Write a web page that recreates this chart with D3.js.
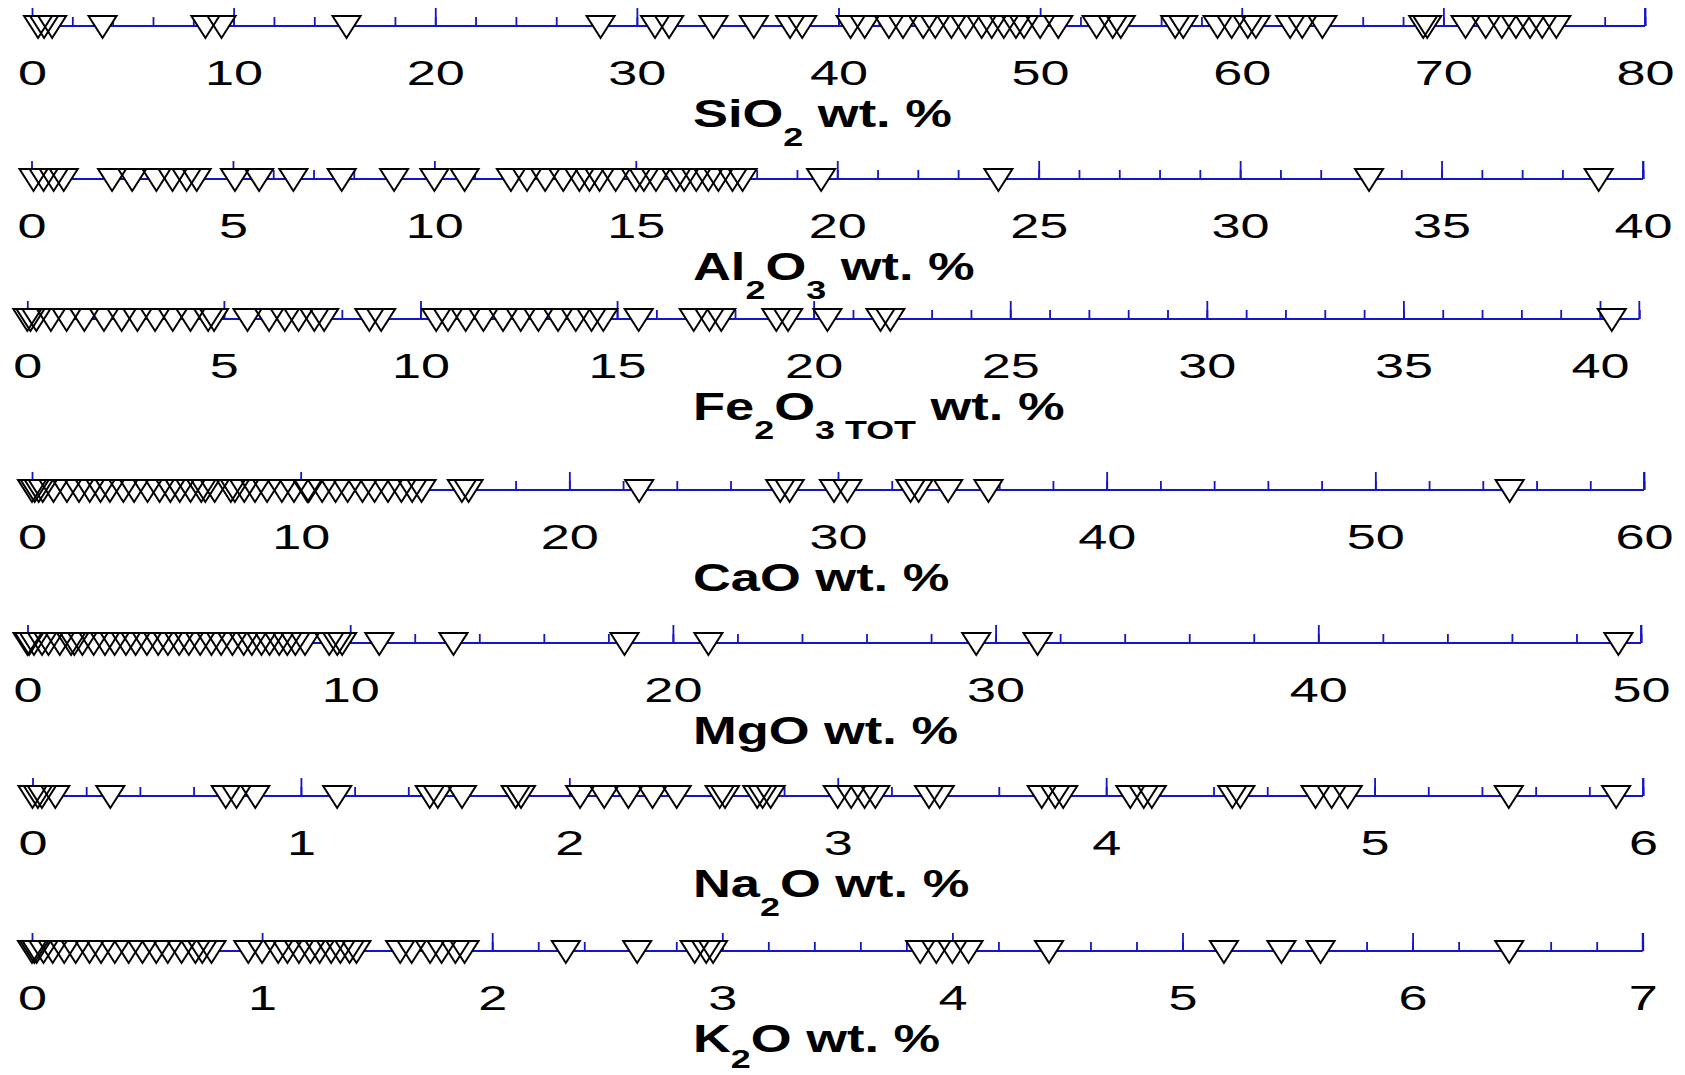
<!DOCTYPE html>
<html><head><meta charset="utf-8">
<script src="https://cdn.jsdelivr.net/npm/d3@7"></script>
<style>body{margin:0;background:#fff}svg{display:block}</style>
</head><body><svg id="c" width="1685" height="1075"></svg>
<script>
// ---- data (wt. %) ----
const sio2Values = [0.3,0.6,1.0,3.5,8.6,9.4,15.6,28.2,30.9,31.6,33.8,35.8,37.6,38.2,40.6,41.3,42.5,43.2,44.2,44.8,45.6,46.3,47.1,47.6,48.2,48.8,49.2,50.0,50.9,52.8,53.6,54.0,56.7,57.1,58.8,59.5,60.3,60.7,62.4,63.0,64.0,69.0,69.2,71.1,72.1,72.9,73.6,74.3,74.9,75.6];
const al2o3Values = [0.05,0.3,0.55,0.8,2.0,2.5,3.1,3.5,3.85,4.1,5.05,5.65,6.5,7.7,9.0,10.0,10.75,11.9,12.3,12.75,13.2,13.6,13.85,14.1,14.5,15.0,15.2,15.5,16.0,16.2,16.5,16.8,17.05,17.4,17.65,19.6,24.0,33.2,38.9];
const fe2o3Values = [0.0,0.08,0.23,0.6,1.0,1.45,1.95,2.4,2.8,3.25,3.7,4.15,4.6,4.75,5.6,6.15,6.55,6.9,7.3,7.55,8.7,9.0,10.4,10.7,11.15,11.6,12.1,12.55,13.0,13.5,13.95,14.35,14.65,15.55,16.95,17.35,17.65,19.05,19.35,20.35,21.7,21.95,40.3];
const caoValues = [0.0,0.1,0.25,0.4,0.8,1.3,1.75,2.15,2.55,2.9,3.4,3.8,4.3,4.75,5.15,5.5,5.9,6.3,6.45,6.8,7.4,7.55,7.9,8.3,8.75,9.3,9.75,10.25,10.3,10.8,11.3,11.75,12.3,12.75,13.25,13.75,14.15,14.5,16.0,16.25,22.6,27.85,28.2,29.85,30.35,32.7,33.0,34.1,35.6,55.0];
const mgoValues = [0.0,0.05,0.2,0.45,0.65,1.0,1.35,1.45,1.7,2.05,2.4,2.7,3.05,3.35,3.7,4.05,4.35,4.7,5.0,5.35,5.7,6.0,6.35,6.7,6.95,7.25,7.5,7.8,8.05,8.3,8.6,9.35,9.6,9.75,10.9,13.2,18.5,21.1,29.4,31.3,49.3];
const na2oValues = [0.0,0.02,0.035,0.085,0.29,0.72,0.76,0.83,1.135,1.48,1.51,1.6,1.8,1.82,2.04,2.13,2.22,2.31,2.4,2.56,2.58,2.7,2.72,2.75,3.0,3.05,3.1,3.14,3.34,3.38,3.76,3.81,3.84,4.09,4.14,4.17,4.47,4.5,4.78,4.84,4.9,5.5,5.9];
const k2oValues = [0.0,0.01,0.02,0.05,0.09,0.14,0.19,0.25,0.3,0.36,0.42,0.48,0.54,0.59,0.65,0.71,0.74,0.78,0.94,1.0,1.07,1.11,1.16,1.21,1.25,1.3,1.34,1.38,1.41,1.6,1.65,1.73,1.78,1.84,1.88,2.32,2.63,2.88,2.93,2.96,3.86,3.93,4.0,4.07,4.42,5.18,5.43,5.6,6.42];

// ---- tick labels ----
const sio2Ticks = [0,10,20,30,40,50,60,70,80];
const al2o3Ticks = [0,5,10,15,20,25,30,35,40];
const fe2o3Ticks = [0,5,10,15,20,25,30,35,40];
const caoTicks = [0,10,20,30,40,50,60];
const mgoTicks = [0,10,20,30,40,50];
const na2oTicks = [0,1,2,3,4,5,6];
const k2oTicks = [0,1,2,3,4,5,6,7];
const minorSteps = [2,1,1,2,2,0.2,0.2];
const axisEnds = [80,40,41,60,50,6,7];

// ---- titles (text, subscript flag) ----
const titles = [
  [["SiO",0],["2",1],[" wt. %",0]],
  [["Al",0],["2",1],["O",0],["3",1],[" wt. %",0]],
  [["Fe",0],["2",1],["O",0],["3 TOT",1],[" wt. %",0]],
  [["CaO wt. %",0]],
  [["MgO wt. %",0]],
  [["Na",0],["2",1],["O wt. %",0]],
  [["K",0],["2",1],["O wt. %",0]]
];

const seriesValues = [sio2Values, al2o3Values, fe2o3Values, caoValues, mgoValues, na2oValues, k2oValues];
const tickSets = [sio2Ticks, al2o3Ticks, fe2o3Ticks, caoTicks, mgoTicks, na2oTicks, k2oTicks];

// ---- layout ----
const lineY = [26,179,319,490,643,796,951];
const xStart = [32,31.5,27.3,32,27.5,32.5,32];
const xLast = [1645,1643,1600,1644,1641,1643,1642.7];
const subDys = [19,19,19,19,19,19,16];
const BLUE = "#1414c8";
const TW = 28, TUP = 10, TDOWN = 12;
const tickFont = 36, tickSX = 1.45;
const titleFont = 38, titleSX = 1.38, titleX = 693, subFont = 26;

const svg = d3.select("#c");

seriesValues.forEach((vals, i) => {
  const ticks = tickSets[i];
  const last = ticks[ticks.length - 1];
  const x = d3.scaleLinear().domain([0, last]).range([xStart[i], xLast[i]]);
  const g = svg.append("g").attr("transform", `translate(0,${lineY[i]})`);

  // minor ticks
  const minor = d3.range(0, axisEnds[i] + 1e-9, minorSteps[i]).map(v => +v.toFixed(4));
  const gm = g.append("g").call(d3.axisTop(x).tickValues(minor).tickSize(9).tickSizeOuter(0).tickFormat(""));
  gm.select(".domain").remove();
  // major ticks
  const gM = g.append("g").call(d3.axisTop(x).tickValues(ticks).tickSize(18).tickSizeOuter(0).tickFormat(""));
  gM.select(".domain").remove();
  g.selectAll(".tick line").attr("stroke", BLUE).attr("stroke-width", 1.8);
  // end tick
  g.append("line").attr("x1", x(axisEnds[i])).attr("x2", x(axisEnds[i])).attr("y1", 0).attr("y2", -18)
    .attr("stroke", BLUE).attr("stroke-width", 1.8);
  // axis line
  g.append("line").attr("x1", x(0)).attr("x2", x(axisEnds[i])).attr("y1", 0).attr("y2", 0)
    .attr("stroke", BLUE).attr("stroke-width", 1.8);

  // tick labels
  const gl = g.append("g").call(d3.axisBottom(x).tickValues(ticks).tickSize(0).tickPadding(0).tickFormat(d3.format("d")));
  gl.select(".domain").remove();
  gl.selectAll("text")
    .attr("y", 59).attr("dy", null).attr("x", 0)
    .attr("fill", "#000")
    .attr("font-family", "'Liberation Sans', Arial, sans-serif")
    .attr("font-size", tickFont)
    .attr("transform", `scale(${tickSX},1)`);

  // triangles (white fills first, then outlines)
  const tri = `M${-TW/2},${-TUP}L${TW/2},${-TUP}L0,${TDOWN}Z`;
  g.append("g").selectAll("path").data(vals).join("path")
    .attr("d", tri).attr("transform", d => `translate(${x(d)},0)`)
    .attr("fill", "#fff").attr("stroke", "none");
  g.append("g").selectAll("path").data(vals).join("path")
    .attr("d", tri).attr("transform", d => `translate(${x(d)},0)`)
    .attr("fill", "none").attr("stroke", "#000").attr("stroke-width", 2);

  // title
  const t = svg.append("text")
    .attr("transform", `translate(${titleX},${lineY[i] + 101}) scale(${titleSX},1)`)
    .attr("font-family", "'Liberation Sans', Arial, sans-serif")
    .attr("font-weight", "bold")
    .attr("font-size", titleFont)
    .attr("fill", "#000")
    .style("white-space", "pre");
  let inSub = false;
  titles[i].forEach(([s, sub]) => {
    const ts = t.append("tspan").text(s);
    if (sub) {
      ts.attr("font-size", subFont);
      if (!inSub) { ts.attr("dy", subDys[i]); inSub = true; }
    } else if (inSub) { ts.attr("dy", -subDys[i]); inSub = false; }
  });
});
</script>
</body></html>
